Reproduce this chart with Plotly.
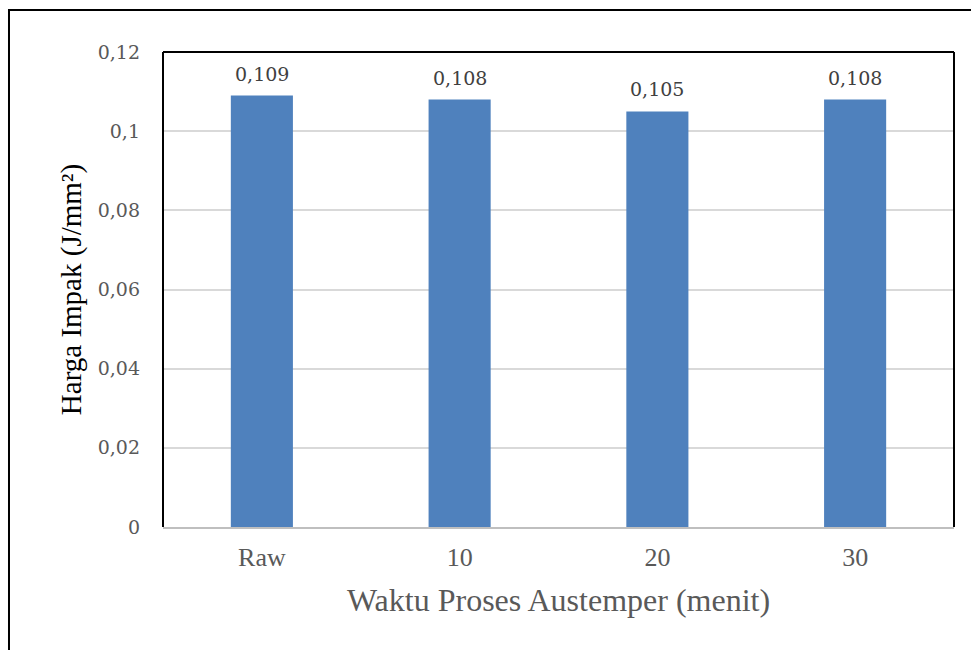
import plotly.graph_objects as go

# Impact values per austempering time
categories = ["Raw", "10", "20", "30"]
impact = [0.109, 0.108, 0.105, 0.108]
value_labels = ["0,109", "0,108", "0,105", "0,108"]

BAR_COLOR = "#4F81BD"
GRID_COLOR = "#D9D9D9"
TICK_COLOR = "#595959"

fig = go.Figure()
fig.add_trace(go.Bar(
    x=categories,
    y=impact,
    marker=dict(color=BAR_COLOR, line=dict(width=0)),
    hoverinfo="skip",
))

# Value labels above each bar (category axis positions by index)
for i, (val, lab) in enumerate(zip(impact, value_labels)):
    fig.add_annotation(
        x=i, y=val, text=lab, showarrow=False,
        yanchor="bottom", yshift=9,
        font=dict(family="DejaVu Serif", size=19, color="#404040"),
    )

# Chart frame: top / left / right of plot area in black
frame = dict(type="line", xref="paper", yref="paper",
             line=dict(color="black", width=2), layer="above")
fig.add_shape(**frame, x0=0, x1=1, y0=1, y1=1)
fig.add_shape(**frame, x0=0, x1=0, y0=0, y1=1)
fig.add_shape(**frame, x0=1, x1=1, y0=0, y1=1)

# Outer border around the whole figure
fig.add_shape(type="rect", xref="paper", yref="paper",
              x0=-0.1947, x1=1.2, y0=-0.35, y1=1.0884,
              line=dict(color="black", width=2), fillcolor="rgba(0,0,0,0)")

fig.update_layout(
    width=971, height=650,
    margin=dict(l=163, r=17, t=52, b=123),
    paper_bgcolor="white", plot_bgcolor="white",
    separators=", ",
    bargap=0.686,
    showlegend=False,
    xaxis=dict(
        type="category",
        categoryorder="array", categoryarray=categories,
        range=[-0.5, len(categories) - 0.5],
        showline=True, linecolor="#BFBFBF", linewidth=2,
        showgrid=False, ticks="",
        tickfont=dict(family="Liberation Serif", size=26, color=TICK_COLOR),
        ticklabelstandoff=6,
        title=dict(text="Waktu Proses Austemper (menit)",
                   font=dict(family="Liberation Serif", size=32, color=TICK_COLOR),
                   standoff=17),
    ),
    yaxis=dict(
        range=[0, 0.12], dtick=0.02, tick0=0,
        showgrid=True, gridcolor=GRID_COLOR, gridwidth=1.5,
        zeroline=False, showline=False, ticks="",
        tickfont=dict(family="DejaVu Serif", size=19, color=TICK_COLOR),
        ticklabelstandoff=22,
        title=dict(text="Harga Impak (J/mm²)",
                   font=dict(family="Liberation Serif", size=29, color="black"),
                   standoff=7),
    ),
)

fig.write_html("out.html")
